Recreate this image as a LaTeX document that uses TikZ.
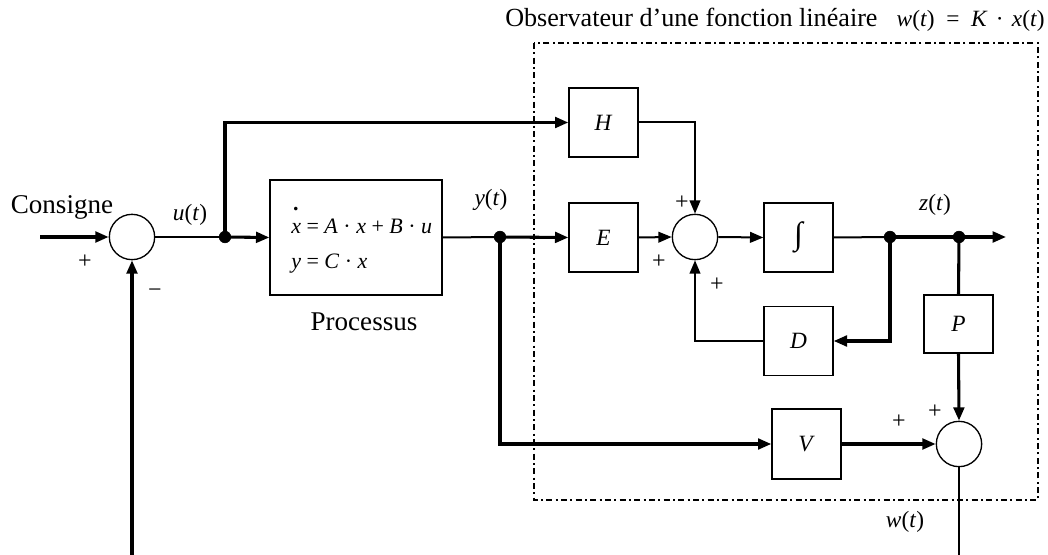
\documentclass[tikz,border=0pt]{standalone}
\usepackage{fontspec}
\setmainfont{Liberation Serif}
\usetikzlibrary{arrows.meta}
\newcommand{\mv}[1]{\textit{#1}}
\newcommand{\labfont}{\fontsize{17.5}{21}\selectfont}
\newcommand{\txtfont}{\fontsize{20.3}{24}\selectfont}
\newcommand{\xpoint}{\makebox[0pt][l]{\hspace{0.08em}\raisebox{1.05em}{\textbf{.}}}\mv{x}}
\begin{document}
\begin{tikzpicture}[x=0.75pt,y=-0.75pt,
  bloc/.style={draw,line width=1pt,minimum width=51.75pt,minimum height=51.75pt,inner sep=0pt,font=\labfont},
  somme/.style={draw,circle,line width=1pt,minimum size=34pt,inner sep=0pt},
  sig/.style={line width=2.3pt,-{Triangle[length=10pt,width=8pt]}},
  fil/.style={line width=1.5pt},
  fleche/.style={fil,-{Triangle[length=10pt,width=8pt]}},
  signe/.style={font=\fontsize{18}{20}\selectfont,inner sep=0pt}
  ]
\useasboundingbox (0,0) rectangle (1048,555);

% BLOCS
\node[somme] (s1) at (132,237) {};
\node[draw,line width=1pt,minimum width=129pt,minimum height=86.25pt,inner sep=0pt] (proc) at (356,237.5) {};
\node[bloc] (H) at (603.5,122.5) {\mv{H}};
\node[bloc] (E) at (603.5,237.5) {\mv{E}};
\node[somme] (s2) at (695,237) {};
\node[bloc,font=\fontsize{24}{26}\selectfont] (int) at (798.5,237.5) {∫};
\node[bloc] (D) at (798.5,341) {\mv{D}};
\node[bloc,minimum height=43.5pt] (P) at (958.5,324) {\mv{P}};
\node[bloc,minimum height=52.5pt] (V) at (806.5,444) {\mv{V}};
\node[somme] (s3) at (959,444) {};

\draw[fill] (225,237) circle (4.4pt)
  +(0,0) node[inner sep=0pt] (ju) {}  % branche u
  ;
\draw[fill] (500,237) circle (4.4pt)
  +(0,0) node[inner sep=0pt] (jy) {}  % branche y
  ;
\draw[fill] (890,237) circle (4.4pt)
  +(0,0) node[inner sep=0pt] (jz1) {}  % branche z vers D
  ;
\draw[fill] (959,237) circle (4.4pt)
  +(0,0) node[inner sep=0pt] (jz2) {}  % branche z vers P
  ;
\coordinate (cin) at (40,237);
\coordinate (cret) at (132,555);
\coordinate (zout) at (1006,237);
\coordinate (wout) at (959,555);

% ARROWS
\draw[sig] (cin) -- (s1.west);
\draw[sig] (cret) -- (s1.south);
\draw[fil] (s1.east) -- (ju);
\draw[sig] (ju) -- (proc.west);
\draw[sig] (ju) |- (H.west);
\draw[fleche] (H.east) -| (s2.north);
\draw[fil] (proc.east) -- (jy);
\draw[sig] (jy) -- (E.west);
\draw[sig] (jy) |- (V.west);
\draw[fleche] (E.east) -- (s2.west);
\draw[fleche] (s2.east) -- (int.west);
\draw[fil] (int.east) -- (jz1);
\draw[line width=2.3pt] (jz1) -- (jz2);
\draw[sig] (jz2) -- (zout);
\draw[sig] (jz1) |- (D.east);
\draw[fleche] (D.west) -| (s2.south);
\draw[line width=2.3pt] (jz2) -- (P.north);
\draw[sig] (P.south) -- (s3.north);
\draw[sig] (V.east) -- (s3.west);
\draw[fil] (s3.south) -- (wout);

% OBSERVATEUR
\draw[line width=1.3pt,dash pattern=on 4.5pt off 2.5pt on 1.5pt off 2.5pt] (534,43) rectangle (1038,500);

% NOTES
\node[font=\txtfont] (consigne) at (62,207) {Consigne};
\node[signe] (p1) at (85,262) {+};
\node[signe] (m1) at (155,293) {−};
\node[font=\labfont] (lu) at (190,215) {\mv{u}(\mv{t})};
\node[font=\fontsize{16.5}{26}\selectfont,align=left,anchor=west,inner sep=0pt] (eq) at (291,240)
  {\xpoint{} = \mv{A} · \mv{x} + \mv{B} · \mv{u}\\ \mv{y} = \mv{C} · \mv{x}};
\node[font=\txtfont] (lproc) at (364,322) {Processus};
\node[font=\labfont] (ly) at (491,200) {\mv{y}(\mv{t})};
\node[signe] (p2) at (682,203) {+};
\node[signe] (p3) at (659,262) {+};
\node[signe] (p4) at (717,285) {+};
\node[font=\labfont] (lz) at (935,205) {\mv{z}(\mv{t})};
\node[signe] (p5) at (935,412) {+};
\node[signe] (p6) at (899,422) {+};
\node[font=\labfont] (lw) at (905,522) {\mv{w}(\mv{t})};
\node[font=\fontsize{19.6}{23}\selectfont,anchor=west,inner sep=0pt] (titre) at (505,17) {Observateur d’une fonction linéaire};
\node[font=\fontsize{17.5}{20}\selectfont,anchor=east,inner sep=0pt] (loi) at (1045,21)
  {\mv{w}(\mv{t})\hspace{0.5em}=\hspace{0.5em}\mv{K}\hspace{0.35em}·\hspace{0.35em}\mv{x}(\mv{t})};

\end{tikzpicture}
\end{document}
